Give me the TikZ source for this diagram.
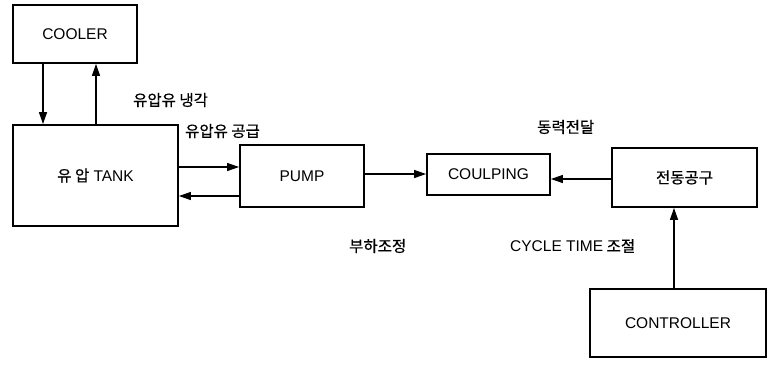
\documentclass[tikz,border=0pt]{standalone}
\usepackage{fontspec}
\setmainfont{Liberation Sans}
\newfontfamily\kr{Noto Sans CJK KR}[FakeBold=0.6]
\usetikzlibrary{arrows.meta}
\begin{document}
\begin{tikzpicture}[x=1pt,y=-1pt,
  blk/.style={draw,line width=1.8pt,inner sep=0pt,font=\fontsize{15.5}{18}\selectfont},
  arr/.style={line width=1.3pt,-{Triangle[length=12pt,width=8pt]}},
  lbl/.style={font=\kr\fontsize{15.5}{18}\selectfont,inner sep=0pt}]
\useasboundingbox (0,0) rectangle (768,368);
\node[blk,minimum width=124pt,minimum height=58pt] (cooler) at (75,34) {COOLER};
\node[blk,minimum width=165pt,minimum height=101pt] (tank) at (95.5,175.5) {{\kr\fontsize{15.5}{18}\selectfont 유 압} TANK};
\node[blk,minimum width=124pt,minimum height=62pt] (pump) at (302,176) {PUMP};
\node[blk,minimum width=123pt,minimum height=41pt] (coup) at (488.5,174.5) {COULPING};
\node[blk,minimum width=145pt,minimum height=59pt] (tool) at (684.5,177.5) {\kr\fontsize{15.5}{18}\selectfont 전동공구};
\node[blk,minimum width=176pt,minimum height=68pt] (ctrl) at (678,323) {CONTROLLER};
% arrows
\draw[arr] (cooler.south -| 43,0) -- (tank.north -| 43,0);
\draw[arr] (tank.north -| 96,0) -- (cooler.south -| 96,0);
\draw[arr] (tank.east |- 0,167) -- (pump.west |- 0,167);
\draw[arr] (pump.west |- 0,196) -- (tank.east |- 0,196);
\draw[arr] (pump.east |- 0,174) -- (coup.west |- 0,174);
\draw[arr] (tool.west |- 0,179) -- (coup.east |- 0,179);
\draw[arr] (ctrl.north -| 674,0) -- (tool.south -| 674,0);
% labels
\node[lbl,anchor=west] (l1) at (133,100) {유압유 냉각};
\node[lbl,anchor=west] (l2) at (185,131) {유압유 공급};
\node[lbl,anchor=west] (l3) at (537,127) {동력전달};
\node[lbl,anchor=west] (l4) at (349,246) {부하조정};
\node[lbl,anchor=west] (l5) at (510,246) {{\rmfamily\fontsize{15.5}{18}\selectfont CYCLE TIME} 조절};
\end{tikzpicture}
\end{document}
